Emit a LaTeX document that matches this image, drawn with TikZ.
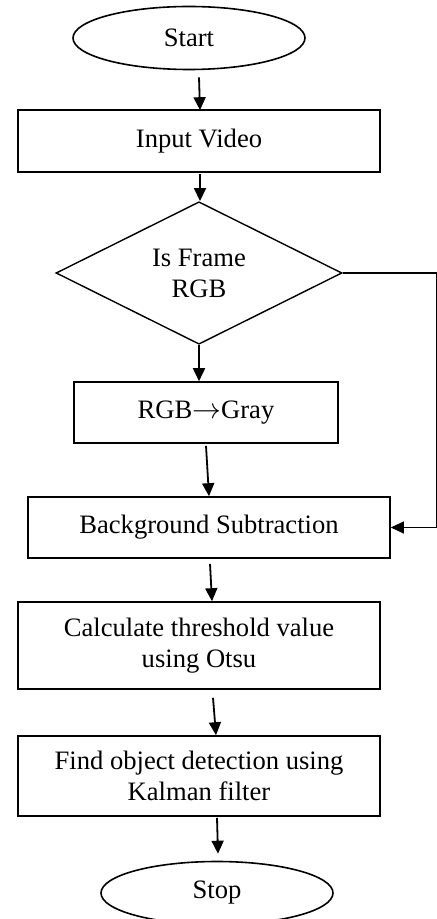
\documentclass[tikz,border=0pt]{standalone}
\usepackage{fontspec}
\setmainfont{Liberation Serif}
\usetikzlibrary{shapes.geometric,arrows.meta,calc}

\begin{document}
\begin{tikzpicture}[x=0.5pt,y=-0.5pt,
    every node/.style={font=\fontsize{13.3}{15.5}\selectfont, align=center, line width=0.8pt},
    terminal/.style={draw, ellipse, minimum width=116pt, minimum height=31.5pt, inner sep=0pt},
    process/.style={draw, rectangle, minimum width=181pt, inner sep=0pt},
    decision/.style={draw, diamond, minimum width=143pt, minimum height=68.5pt, inner sep=0pt},
    flow/.style={line width=0.9pt, -{Triangle[length=6.5pt,width=6pt]}}]
    \useasboundingbox (0,0) rectangle (437,919);

    % Steps, top to bottom
    \node[terminal] (start) at (189,38) {Start};
    \node[process, minimum height=31pt] (input) at (199,141) {Input Video};
    \node[decision, line width=0.7pt] (isrgb) at (199,273) {Is Frame\\RGB};
    \node[process, minimum width=132pt, minimum height=30.5pt] (gray) at (206,412.5) {RGB$\rightarrow$Gray};
    \node[process, minimum height=30.5pt] (bgsub) at (209,527.5) {Background Subtraction};
    \node[process, minimum height=43.5pt] (otsu) at (199,645.5) {Calculate threshold value\\using Otsu};
    \node[process, minimum height=40pt] (kalman) at (199,776) {Find object detection using\\Kalman filter};
    \node[terminal] (stop) at (217,893) {Stop};

    % Main flow
    \draw[flow] ($(start.south)+(10,7)$) -- ($(input.north)+(1,1)$);
    \draw[flow] ($(input.south)+(1,1)$) -- ($(isrgb.north)+(1,0)$);
    \draw[flow] (isrgb.south) -- (isrgb.south |- gray.north);
    \draw[flow] ($(gray.south)+(0,2)$) -- (bgsub.north);
    \draw[flow] ($(bgsub.south)+(1,5)$) -- ($(otsu.north)+(13,0)$);
    \draw[flow] ($(otsu.south)+(14,8)$) -- ($(kalman.north)+(17,0)$);
    \draw[flow] ($(kalman.south)+(18,1)$) -- ($(stop.north)+(1,-7)$);

    % Gray frames skip the conversion
    \draw[flow, line width=0.6pt] (isrgb.east) -- ++(94,0) |- (bgsub.east);
\end{tikzpicture}
\end{document}
